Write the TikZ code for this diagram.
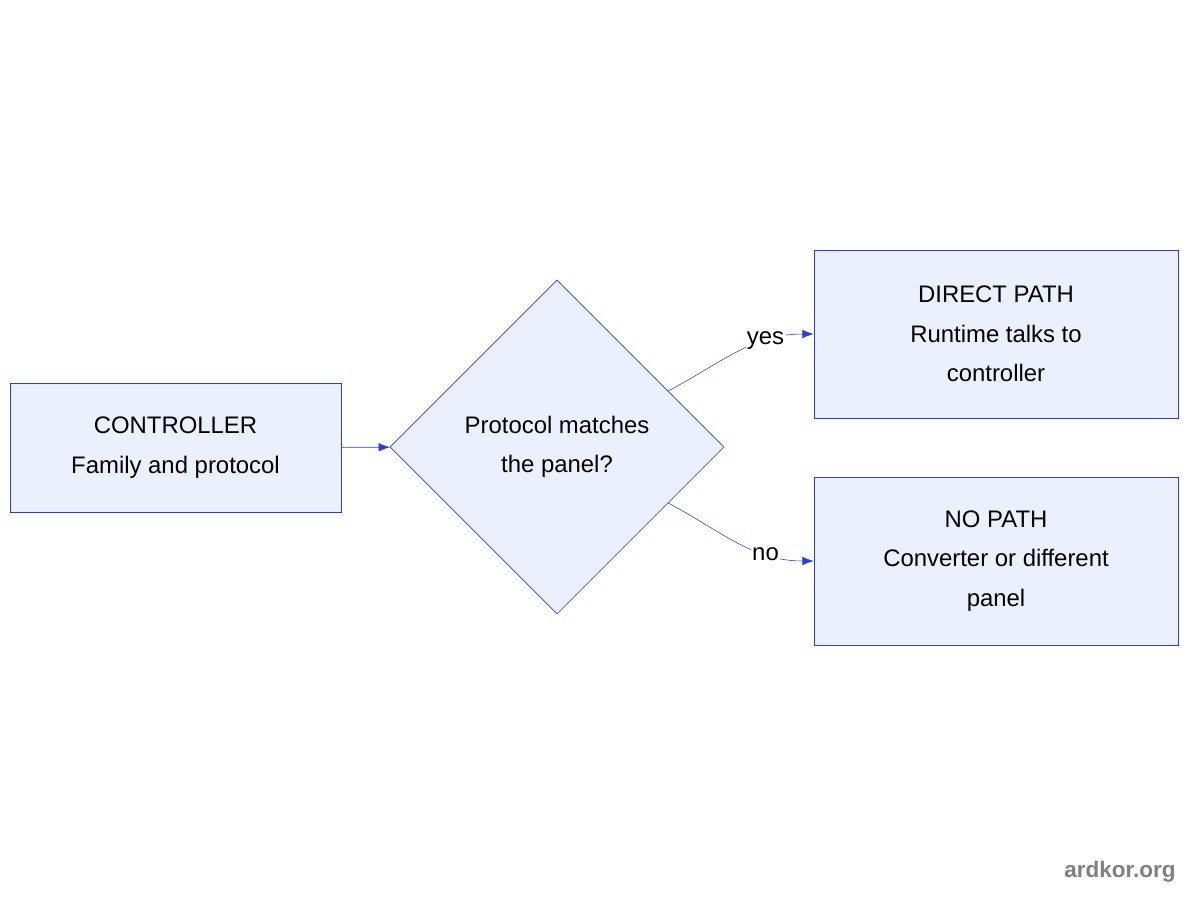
\documentclass[tikz,border=0pt]{standalone}
\usepackage{fontspec}
\setmainfont{Liberation Sans}
\usetikzlibrary{shapes.geometric,arrows.meta,calc}
\definecolor{boxfill}{HTML}{ECF0FC}
\definecolor{boxline}{HTML}{2B3FD6}
\begin{document}
\begin{tikzpicture}[x=0.025cm, y=-0.025cm]
	\tikzset{boite/.style={rectangle, draw=boxline, fill=boxfill, align=center, inner sep=0pt, font=\fontsize{17}{28}\selectfont},
	losange/.style={diamond, draw=boxline, fill=boxfill, align=center, inner sep=0pt, aspect=1, minimum width=334*0.025cm, minimum height=334*0.025cm, font=\fontsize{17}{28}\selectfont},
	etiq/.style={fill=white, inner sep=1pt, font=\fontsize{17}{20}\selectfont},
	fleche/.style={draw=boxline, -{Latex[length=8pt,width=6pt]}}}

	\useasboundingbox (0,0) rectangle (1200,900);

	\node[boite, minimum width=331*0.025cm, minimum height=129*0.025cm] (ctrl) at (175.5,447.5) {CONTROLLER\\Family and protocol};
	\node[losange] (proto) at (557,447) {Protocol matches\\the panel?};
	\node[boite, minimum width=364*0.025cm, minimum height=168*0.025cm] (direct) at (996,334) {DIRECT PATH\\Runtime talks to\\controller};
	\node[boite, minimum width=364*0.025cm, minimum height=168*0.025cm] (nopath) at (996,561) {NO PATH\\Converter or different\\panel};

	\coordinate (p-yes) at ($(proto.north east)!0.33!(proto.east)$);
	\coordinate (p-no) at ($(proto.south east)!0.33!(proto.east)$);

	\draw[fleche] (ctrl) -- (proto);
	\draw[fleche] (p-yes) to[out=28, in=180] node[etiq, pos=0.7] (yes) {yes} (direct.west);
	\draw[fleche] (p-no) to[out=-28, in=180] node[etiq, pos=0.7] (no) {no} (nopath.west);

	\node[text=gray, font=\bfseries\fontsize{16}{18}\selectfont] (marque) at (1120,872) {ardkor.org};
\end{tikzpicture}
\end{document}
